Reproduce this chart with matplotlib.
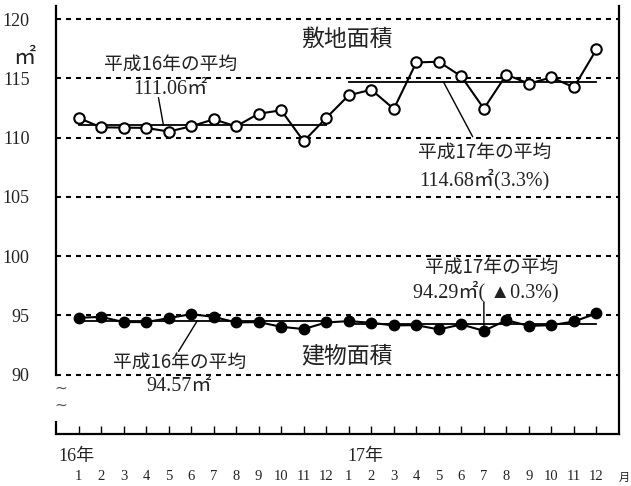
import matplotlib
matplotlib.use("Agg")
import matplotlib.pyplot as plt
import numpy as np

# months 16年1月 .. 17年12月
months = list(range(1, 25))
month_labels = [str(m) for m in range(1, 13)] * 2

# 敷地面積 (land area, m2)
land = [111.66, 110.87, 110.84, 110.82, 110.51, 110.95, 111.54, 110.95, 112.02, 112.30, 109.69, 111.66,
        113.57, 114.04, 112.42, 116.34, 116.40, 115.16, 112.44, 115.31, 114.55, 115.08, 114.24, 117.44]
land_avg16 = 111.06
land_avg17 = 114.68

# 建物面積 (building area, m2)
bldg = [94.80, 94.88, 94.44, 94.44, 94.77, 95.11, 94.88, 94.41, 94.44, 94.04, 93.85, 94.41,
        94.52, 94.38, 94.16, 94.18, 93.82, 94.24, 93.70, 94.60, 94.12, 94.18, 94.49, 95.17]
bldg_avg16 = 94.57
bldg_avg17 = 94.29

yticks = [90, 95, 100, 105, 110, 115, 120]

JP = ['Noto Sans CJK JP', 'DejaVu Sans']
NUM = ['Liberation Serif', 'Noto Sans CJK JP', 'DejaVu Sans']
TXT = '#222222'

fig = plt.figure(figsize=(6.31, 4.86), dpi=100)
ax = fig.add_axes([56 / 631, 52 / 486, 563 / 631, 428 / 486])
ax.set_xlim(0, 25)
ax.set_ylim(85, 121.1)

# dotted grid lines
for yv in yticks:
    ax.axhline(yv, color='black', lw=1.5, dashes=(2.4, 2.4), zorder=1)

x = np.array(months)
# average lines
ax.plot([x[0], x[11]], [land_avg16] * 2, color='black', lw=1.3, zorder=2)
ax.plot([x[12], x[23]], [land_avg17] * 2, color='black', lw=1.3, zorder=2)
ax.plot([x[0], x[11]], [bldg_avg16] * 2, color='black', lw=1.3, zorder=2)
ax.plot([x[12], x[23]], [bldg_avg17] * 2, color='black', lw=1.3, zorder=2)

ax.plot(x, land, color='black', lw=1.5, marker='o', ms=7.5, mfc='white', mec='black', mew=1.5, zorder=3)
ax.plot(x, bldg, color='black', lw=1.5, marker='o', ms=7.5, mfc='black', mec='black', zorder=3)

# spines
ax.spines['top'].set_visible(False)
for s in ['left', 'bottom', 'right']:
    ax.spines[s].set_linewidth(1.6)
ax.spines['left'].set_bounds(90, 121.1)
ax.plot([0, 0], [85, 86.07], color='black', lw=1.6, clip_on=False, solid_capstyle='butt')
ax.text(0.2, 88.85, '~', fontsize=11, color='#555555', ha='center', va='center', clip_on=False)
ax.text(0.2, 87.42, '~', fontsize=11, color='#555555', ha='center', va='center', clip_on=False)

ax.set_yticks(yticks)
ax.set_yticklabels([str(v) for v in yticks], family=NUM, fontsize=13, color=TXT)
ax.tick_params(axis='y', length=0, pad=19)
ax.set_xticks(months)
ax.set_xticklabels(month_labels, family=NUM, fontsize=10.5, color=TXT)
ax.tick_params(axis='x', direction='in', length=6, width=1, pad=26)

# axis annotations
ax.text(-1.40, 116.74, '㎡', family=JP, fontsize=16, color=TXT, ha='center', va='center', clip_on=False)
ax.text(0.11, 83.1, '16年', family=NUM, fontsize=13, color=TXT, ha='left', va='center', clip_on=False)
ax.text(12.95, 83.1, '17年', family=NUM, fontsize=13, color=TXT, ha='left', va='center', clip_on=False)
ax.text(25.47, 81.3, '月', family=JP, fontsize=8, color=TXT, ha='right', va='center', clip_on=False)

# series names
ax.text(12.9, 118.26, '敷地面積', family=JP, fontsize=16.5, color=TXT, ha='center', va='center')
ax.text(12.9, 91.55, '建物面積', family=JP, fontsize=16.5, color=TXT, ha='center', va='center')

# average labels
lead = dict(arrowstyle='-', color='black', lw=1, shrinkA=0, shrinkB=0)
ax.text(5.09, 116.15, '平成16年の平均', family=JP, fontsize=13.5, color=TXT, ha='center', va='center')
ax.text(5.09, 114.04, '111.06㎡', family=NUM, fontsize=14.5, color=TXT, ha='center', va='center')
ax.annotate('', xy=(4.77, land_avg16), xytext=(4.55, 113.37), arrowprops=lead)

ax.text(19.03, 108.74, '平成17年の平均', family=JP, fontsize=13.5, color=TXT, ha='center', va='center')
ax.text(19.03, 106.46, '114.68㎡(3.3%)', family=NUM, fontsize=14.5, color=TXT, ha='center', va='center')
ax.annotate('', xy=(17.21, land_avg17), xytext=(18.5, 110.08), arrowprops=lead)

ax.text(5.48, 91.04, '平成16年の平均', family=JP, fontsize=13.5, color=TXT, ha='center', va='center')
ax.text(5.48, 89.02, '94.57㎡', family=NUM, fontsize=14.5, color=TXT, ha='center', va='center')
ax.annotate('', xy=(6.28, bldg_avg16), xytext=(5.44, 91.97), arrowprops=lead)

ax.text(19.34, 99.05, '平成17年の平均', family=JP, fontsize=13.5, color=TXT, ha='center', va='center')
ax.text(19.07, 97.03, '94.29㎡( ▲0.3%)', family=NUM, fontsize=14.5, color=TXT, ha='center', va='center')
ax.annotate('', xy=(19.0, bldg[18]), xytext=(19.0, 96.1), arrowprops=lead)

fig.savefig('out.png', dpi=100)
